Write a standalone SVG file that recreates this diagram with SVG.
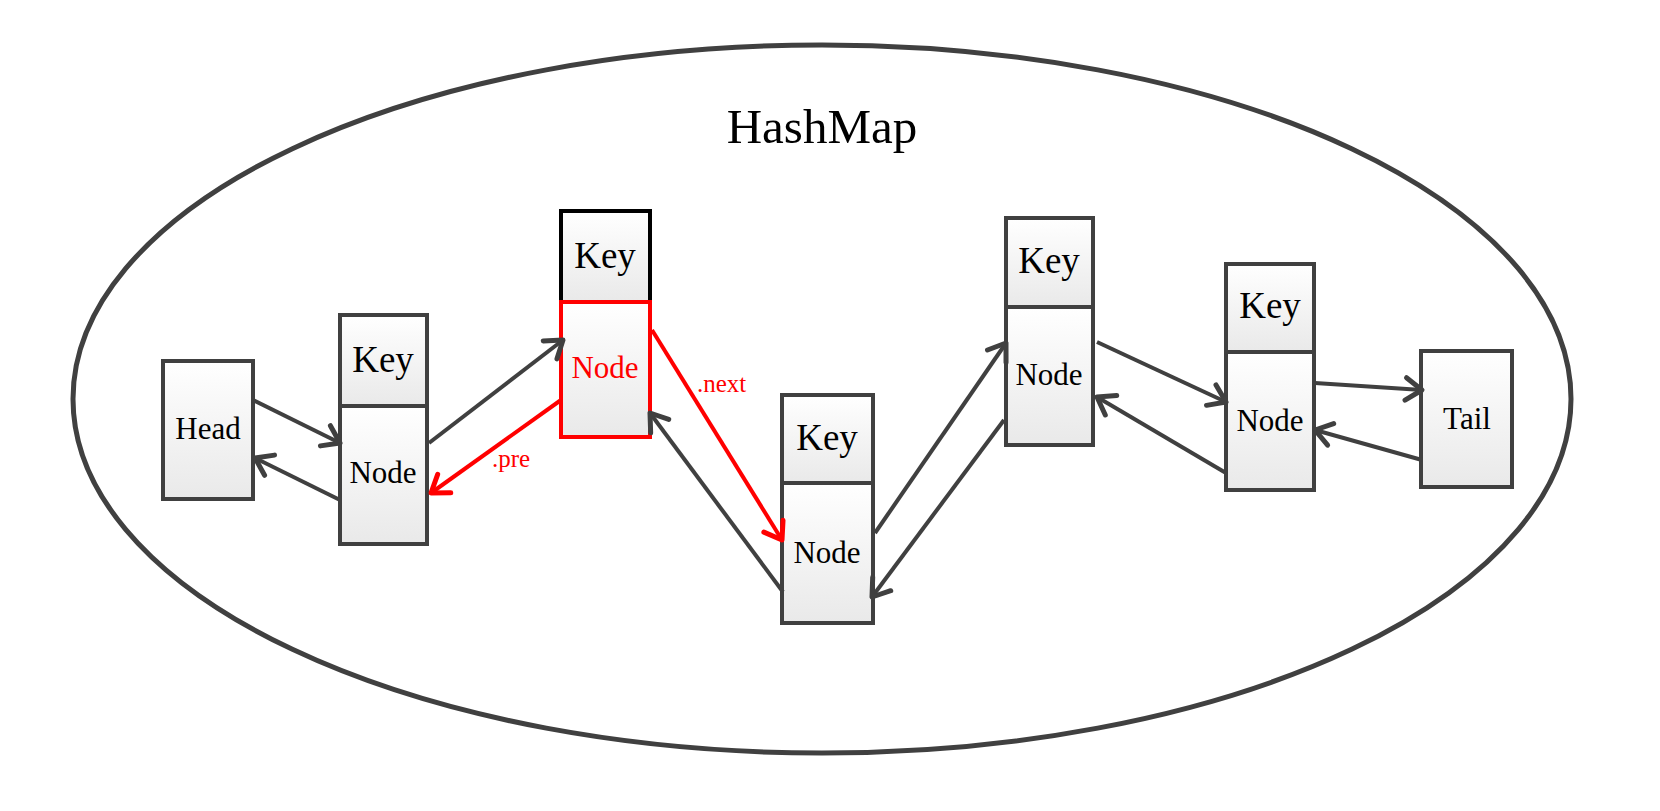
<svg xmlns="http://www.w3.org/2000/svg" width="1660" height="811" viewBox="0 0 1660 811">
<defs>
<linearGradient id="cell" x1="0" y1="0" x2="0" y2="1">
<stop offset="0" stop-color="#ffffff"/>
<stop offset="1" stop-color="#e9e9e9"/>
</linearGradient>
<marker id="ag" markerUnits="userSpaceOnUse" markerWidth="30" markerHeight="30" viewBox="-16 -12 20 24" refX="0" refY="0" orient="auto">
<path d="M -13 -9 L 0 0 L -13 9" fill="none" stroke="#404040" stroke-width="4" stroke-linecap="round" stroke-linejoin="round"/>
</marker>
<marker id="ar" markerUnits="userSpaceOnUse" markerWidth="30" markerHeight="30" viewBox="-16 -12 20 24" refX="0" refY="0" orient="auto">
<path d="M -13 -9 L 0 0 L -13 9" fill="none" stroke="#ff0000" stroke-width="4" stroke-linecap="round" stroke-linejoin="round"/>
</marker>
</defs>
<style>
.box{fill:url(#cell);stroke:#404040;stroke-width:4}
.kbox{fill:url(#cell);stroke:#000000;stroke-width:4}
.rbox{fill:url(#cell);stroke:#ff0000;stroke-width:4}
.t{font-family:"Liberation Serif","Times New Roman",serif;text-anchor:middle;fill:#000}
.key{font-size:37px}
.nd{font-size:31px}
.red{fill:#ff0000}
.lbl{font-family:"Liberation Serif","Times New Roman",serif;font-size:25px;fill:#ff0000}
.c{fill:none;stroke:#404040;stroke-width:4;marker-end:url(#ag)}
.cr{fill:none;stroke:#ff0000;stroke-width:4;marker-end:url(#ar)}
</style>
<rect width="1660" height="811" fill="#ffffff"/>
<g id="hashmap">
<ellipse cx="822" cy="399" rx="749" ry="354" fill="none" stroke="#404040" stroke-width="5"/>
<text class="t" x="822" y="143" font-size="49">HashMap</text>
</g>
<g id="head">
<rect class="box" x="163" y="361" width="90" height="138"/>
<text class="t nd" x="208" y="439">Head</text>
</g>
<g id="node1">
<rect class="box" x="340" y="315" width="87" height="91"/>
<rect class="box" x="340" y="406" width="87" height="138"/>
<text class="t key" x="383" y="372">Key</text>
<text class="t nd" x="383" y="483">Node</text>
</g>
<g id="node2">
<rect class="kbox" x="561" y="211" width="89" height="91"/>
<rect class="rbox" x="561" y="302" width="89" height="135"/>
<text class="t key" x="605" y="268">Key</text>
<text class="t nd red" x="605" y="378">Node</text>
</g>
<g id="node3">
<rect class="box" x="782" y="395" width="91" height="88"/>
<rect class="box" x="782" y="483" width="91" height="140"/>
<text class="t key" x="827" y="450">Key</text>
<text class="t nd" x="827" y="563">Node</text>
</g>
<g id="node4">
<rect class="box" x="1006" y="218" width="87" height="89"/>
<rect class="box" x="1006" y="307" width="87" height="138"/>
<text class="t key" x="1049" y="273">Key</text>
<text class="t nd" x="1049" y="385">Node</text>
</g>
<g id="node5">
<rect class="box" x="1226" y="264" width="88" height="88"/>
<rect class="box" x="1226" y="352" width="88" height="138"/>
<text class="t key" x="1270" y="318">Key</text>
<text class="t nd" x="1270" y="431">Node</text>
</g>
<g id="tail">
<rect class="box" x="1421" y="351" width="91" height="136"/>
<text class="t nd" x="1467" y="429">Tail</text>
</g>
<g id="connectors">
<line class="c" x1="253" y1="400" x2="340" y2="443"/>
<line class="c" x1="340" y1="500" x2="255" y2="458"/>
<line class="c" x1="429" y1="443" x2="563" y2="340"/>
<line class="cr" x1="561" y1="400" x2="431" y2="493"/>
<line class="cr" x1="652" y1="330" x2="782" y2="540"/>
<line class="c" x1="783" y1="592" x2="650" y2="413"/>
<line class="c" x1="875" y1="533" x2="1006" y2="343"/>
<line class="c" x1="1004" y1="420" x2="872" y2="597"/>
<line class="c" x1="1097" y1="342" x2="1226" y2="402"/>
<line class="c" x1="1226" y1="473" x2="1097" y2="397"/>
<line class="c" x1="1315" y1="383" x2="1422" y2="390"/>
<line class="c" x1="1422" y1="460" x2="1315" y2="430"/>
<text class="lbl" x="697" y="392">.next</text>
<text class="lbl" x="492" y="467">.pre</text>
</g>
</svg>
